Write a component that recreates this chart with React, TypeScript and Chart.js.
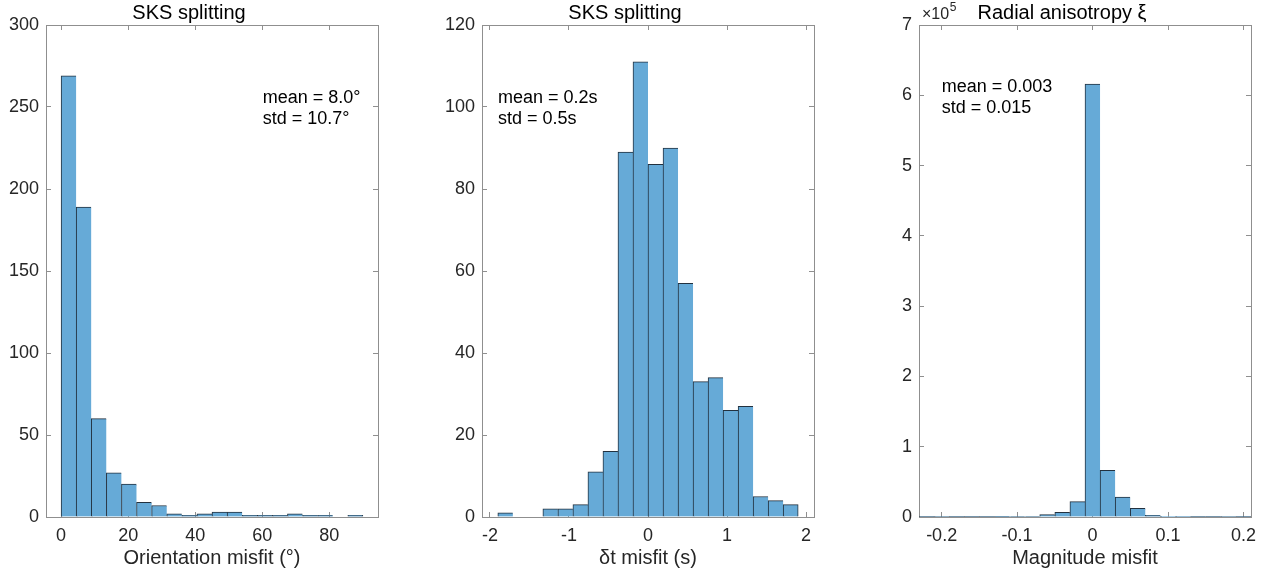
import React, { useEffect, useRef } from "react";
import { Chart, registerables } from "chart.js";

Chart.register(...registerables);

const FONT = "'Liberation Sans', Arial, Helvetica, sans-serif";
const FILL = "#66AAD7";
const EDGE = "#22313f";
const BOX = "#8f8f8f";
const LABEL = "#262626";

// ---- Panel 1: orientation misfit ----
const orientCenters = [2.25, 6.75, 11.25, 15.75, 20.25, 24.75, 29.25, 33.75, 38.25, 42.75, 47.25, 51.75, 56.25, 60.75, 65.25, 69.75, 74.25, 78.75, 83.25, 87.75];
const orientCounts = [269, 189, 60, 27, 20, 9, 7, 2, 1, 2, 3, 3, 1, 1, 1, 2, 1, 1, 0, 1];
const orientXTicks = [0, 20, 40, 60, 80];
const orientYTicks = [0, 50, 100, 150, 200, 250, 300];

// ---- Panel 2: delay-time misfit ----
const dtCenters = [-1.805, -1.615, -1.425, -1.235, -1.045, -0.855, -0.665, -0.475, -0.285, -0.095, 0.095, 0.285, 0.475, 0.665, 0.855, 1.045, 1.235, 1.425, 1.615, 1.805];
const dtCounts = [1, 0, 0, 2, 2, 3, 11, 16, 89, 111, 86, 90, 57, 33, 34, 26, 27, 5, 4, 3];
const dtXTicks = [-2, -1, 0, 1, 2];
const dtYTicks = [0, 20, 40, 60, 80, 100, 120];

// ---- Panel 3: radial anisotropy magnitude misfit ----
const xiCenters = [-0.22, -0.2, -0.18, -0.16, -0.14, -0.12, -0.1, -0.08, -0.06, -0.04, -0.02, 0, 0.02, 0.04, 0.06, 0.08, 0.1, 0.12, 0.14, 0.16, 0.18, 0.2];
const xiCounts = [20, 30, 40, 60, 90, 150, 300, 1000, 3300, 6600, 21800, 616000, 66400, 28400, 12300, 2400, 500, 200, 100, 60, 30, 20];
const xiXTicks = [-0.2, -0.1, 0, 0.1, 0.2];
const xiYTicks = [0, 100000, 200000, 300000, 400000, 500000, 600000, 700000];

type PanelCfg = {
  title: string;
  xLabel: string;
  centers: number[];
  counts: number[];
  xMin: number;
  xMax: number;
  yMax: number;
  xTicks: number[];
  yTicks: number[];
  yDivisor: number;
  notes: string[];
  noteX: number;
  noteY: number;
  exponent?: string;
  axLeft: number;
};

const panels: PanelCfg[] = [
  {
    title: "SKS splitting",
    xLabel: "Orientation misfit (°)",
    centers: orientCenters,
    counts: orientCounts,
    xMin: -4.5,
    xMax: 94.5,
    yMax: 300,
    xTicks: orientXTicks,
    yTicks: orientYTicks,
    yDivisor: 1,
    notes: ["mean = 8.0°", "std = 10.7°"],
    noteX: 216.7,
    noteY: 78.3,
    axLeft: 46,
  },
  {
    title: "SKS splitting",
    xLabel: "δt misfit (s)",
    centers: dtCenters,
    counts: dtCounts,
    xMin: -2.1,
    xMax: 2.1,
    yMax: 120,
    xTicks: dtXTicks,
    yTicks: dtYTicks,
    yDivisor: 1,
    notes: ["mean = 0.2s", "std = 0.5s"],
    noteX: 16,
    noteY: 78.3,
    axLeft: 482,
  },
  {
    title: "Radial anisotropy ξ",
    xLabel: "Magnitude misfit",
    centers: xiCenters,
    counts: xiCounts,
    xMin: -0.23,
    xMax: 0.21,
    yMax: 700000,
    xTicks: xiXTicks,
    yTicks: xiYTicks,
    yDivisor: 100000,
    notes: ["mean = 0.003", "std = 0.015"],
    noteX: 22.7,
    noteY: 67.3,
    exponent: "5",
    axLeft: 919,
  },
];

const Y_AXIS_W = 46;
const RIGHT_PAD = 26;
const CANVAS_W = Y_AXIS_W + 332 + RIGHT_PAD;
const CANVAS_H = 575;
const X_AXIS_H = 58;

function HistPanel({ cfg }: { cfg: PanelCfg }) {
  const ref = useRef<HTMLCanvasElement | null>(null);

  useEffect(() => {
    if (!ref.current) return;
    const setTicks = (vals: number[]) => (scale: any) => {
      scale.ticks = vals.map((v) => ({ value: v }));
    };
    const grid = {
      drawOnChartArea: false,
      drawTicks: true,
      tickLength: -5,
      offset: false,
      color: BOX,
      lineWidth: 1,
    };
    const border = { display: true, color: BOX, width: 1 };
    const tickFont = { family: FONT, size: 18 };
    const last = cfg.centers.length - 1;

    const notesPlugin = {
      id: "notes",
      afterDraw(chart: any) {
        const { ctx, chartArea } = chart;
        ctx.save();
        ctx.fillStyle = "#000";
        ctx.textAlign = "left";
        ctx.textBaseline = "alphabetic";
        ctx.font = `18px ${FONT}`;
        cfg.notes.forEach((t, i) => {
          ctx.fillText(t, chartArea.left + cfg.noteX, chartArea.top + cfg.noteY + i * 21);
        });
        if (cfg.exponent) {
          ctx.fillStyle = LABEL;
          ctx.font = `16px ${FONT}`;
          const base = "×10";
          const x0 = chartArea.left + 3;
          ctx.fillText(base, x0, chartArea.top - 6.5);
          const w = ctx.measureText(base).width;
          ctx.font = `12px ${FONT}`;
          ctx.fillText(cfg.exponent, x0 + w + 0.5, chartArea.top - 14.5);
        }
        ctx.restore();
      },
    };

    const chart = new Chart(ref.current, {
      type: "bar",
      data: {
        datasets: [
          {
            data: cfg.centers.map((c, i) => ({ x: c, y: cfg.counts[i] === 0 ? null : cfg.counts[i] })),
            backgroundColor: FILL,
            borderColor: EDGE,
            borderWidth: (ctx: any) => ({
              top: 1,
              left: 1,
              bottom: 0,
              right: ctx.dataIndex === last ? 1 : 0,
            }),
            borderSkipped: false,
            barPercentage: 1,
            categoryPercentage: 1,
            grouped: false,
          } as any,
        ],
      },
      options: {
        responsive: false,
        animation: false,
        devicePixelRatio: 1,
        layout: { padding: { left: 0, right: RIGHT_PAD, top: 0, bottom: 0 } },
        plugins: {
          legend: { display: false },
          tooltip: { enabled: false },
          title: {
            display: true,
            text: cfg.title,
            color: "#000",
            font: { family: FONT, size: 20, weight: "normal" },
            padding: { top: 1, bottom: 0 },
          },
        },
        scales: {
          x: {
            type: "linear",
            position: "bottom",
            offset: false,
            min: cfg.xMin,
            max: cfg.xMax,
            afterBuildTicks: setTicks(cfg.xTicks),
            afterFit: (s: any) => {
              s.height = X_AXIS_H;
            },
            ticks: {
              font: tickFont,
              color: LABEL,
              padding: 13,
              maxRotation: 0,
              autoSkip: false,
              callback: (v: any) => String(v),
            },
            grid,
            border,
            title: {
              display: true,
              text: cfg.xLabel,
              color: LABEL,
              font: { family: FONT, size: 20 },
              padding: { top: 0, bottom: 4.5 },
            },
          },
          x2: {
            type: "linear",
            position: "top",
            offset: false,
            min: cfg.xMin,
            max: cfg.xMax,
            afterBuildTicks: setTicks(cfg.xTicks),
            afterFit: (s: any) => {
              s.height = 0;
            },
            ticks: { display: false },
            grid,
            border,
          },
          y: {
            type: "linear",
            position: "left",
            min: 0,
            max: cfg.yMax,
            afterBuildTicks: setTicks(cfg.yTicks),
            afterFit: (s: any) => {
              s.width = Y_AXIS_W;
            },
            ticks: {
              font: tickFont,
              color: LABEL,
              padding: 12,
              autoSkip: false,
              callback: (v: any) => String(Number(v) / cfg.yDivisor),
            },
            grid,
            border,
          },
          y2: {
            type: "linear",
            position: "right",
            min: 0,
            max: cfg.yMax,
            afterBuildTicks: setTicks(cfg.yTicks),
            afterFit: (s: any) => {
              s.width = 0;
            },
            ticks: { display: false },
            grid,
            border,
          },
        },
      } as any,
      plugins: [notesPlugin],
    });
    return () => chart.destroy();
  }, [cfg]);

  return (
    <canvas
      ref={ref}
      width={CANVAS_W}
      height={CANVAS_H}
      style={{
        position: "absolute",
        left: cfg.axLeft - Y_AXIS_W,
        top: 0,
        width: CANVAS_W,
        height: CANVAS_H,
      }}
    />
  );
}

export default function App() {
  return (
    <div
      style={{
        position: "fixed",
        left: 0,
        top: 0,
        width: 1270,
        height: 575,
        background: "#fff",
        overflow: "hidden",
      }}
    >
      {panels.map((p, i) => (
        <HistPanel key={i} cfg={p} />
      ))}
    </div>
  );
}
